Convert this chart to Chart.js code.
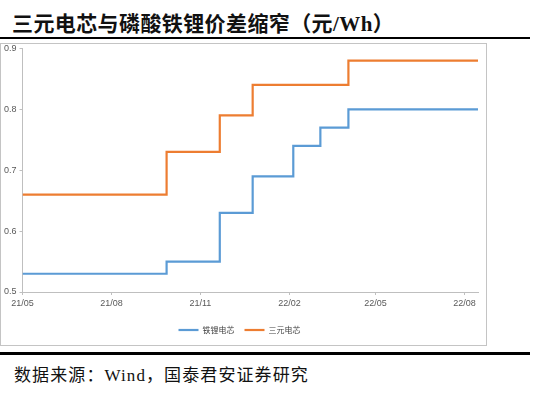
<!DOCTYPE html>
<html>
<head>
    <meta charset="utf-8">
    <title>三元电芯与磷酸铁锂价差缩窄</title>
    <script src="https://cdn.jsdelivr.net/npm/chart.js"></script>
    <style>
        body { margin: 0; width: 550px; height: 398px; background: #fff; position: relative; overflow: hidden; }
        .title { position: absolute; left: 12px; top: 13px; font: bold 21px/22px "Liberation Serif", "Noto Sans CJK SC", serif; letter-spacing: 0.4px; color: #111; white-space: nowrap; }
        .rule { position: absolute; left: 0; width: 530px; background: #000; }
        #box { position: absolute; left: 0; top: 43px; width: 487px; height: 303px; box-sizing: border-box; border: 1px solid #c4c4c4; }
        #chartWrap { position: absolute; left: 1px; top: 40px; }
        .source { position: absolute; left: 14px; top: 367px; font: 17px/18px "Liberation Serif", "Noto Sans CJK SC", serif; letter-spacing: 1.1px; color: #111; white-space: nowrap; }
    </style>
</head>
<body>
    <div class="title">三元电芯与磷酸铁锂价差缩窄（元/Wh）</div>
    <div class="rule" style="top:37px;height:2px;"></div>
    <div id="box"></div>
    <div id="chartWrap"><canvas id="priceChart" width="486" height="305"></canvas></div>
    <div class="rule" style="top:352px;height:3px;"></div>
    <div class="source">数据来源：Wind，国泰君安证券研究</div>

    <script>
        // step change dates and cell prices (元/Wh)
        const stepDates = ['2021-05-01', '2021-09-27', '2021-11-21', '2021-12-25', '2022-02-05', '2022-03-05', '2022-04-03', '2022-08-15'];
        const lfpCell = [0.53, 0.55, 0.63, 0.69, 0.74, 0.77, 0.80, 0.80];
        const ncmCell = [0.66, 0.73, 0.79, 0.84, 0.84, 0.84, 0.88, 0.88];
        const seriesNames = ['铁锂电芯', '三元电芯'];

        const tickDates = ['2021-05-01', '2021-08-01', '2021-11-01', '2022-02-01', '2022-05-01', '2022-08-01'];
        const tickLabels = ['21/05', '21/08', '21/11', '22/02', '22/05', '22/08'];

        // no date adapter available, so x is days since the first date
        const day0 = Date.parse(stepDates[0]);
        const toDay = d => (Date.parse(d) - day0) / 86400000;
        const xs = stepDates.map(toDay);
        const tickDays = tickDates.map(toDay);

        const axisGray = '#bfbfbf';
        const tickFont = { family: '"Liberation Sans Narrow", "Liberation Sans", Arial', size: 9 };

        const ctx = document.getElementById('priceChart').getContext('2d');
        const chart = new Chart(ctx, {
            type: 'line',
            data: {
                datasets: [{
                    label: seriesNames[0],
                    data: xs.map((x, i) => ({ x: x, y: lfpCell[i] })),
                    borderColor: '#5B9BD5',
                    backgroundColor: '#5B9BD5',
                    borderWidth: 2.2,
                    pointRadius: 0,
                    stepped: 'before'
                }, {
                    label: seriesNames[1],
                    data: xs.map((x, i) => ({ x: x, y: ncmCell[i] })),
                    borderColor: '#ED7D31',
                    backgroundColor: '#ED7D31',
                    borderWidth: 2.2,
                    pointRadius: 0,
                    stepped: 'before'
                }]
            },
            options: {
                responsive: false,
                animation: false,
                devicePixelRatio: 1,
                layout: { padding: { left: 0, right: 9, top: 8, bottom: 1 } },
                plugins: {
                    legend: {
                        position: 'bottom',
                        labels: {
                            usePointStyle: true,
                            pointStyle: 'line',
                            pointStyleWidth: 20,
                            padding: 10,
                            color: '#404040',
                            font: { family: '"Noto Sans CJK SC"', size: 8 }
                        }
                    },
                    tooltip: { enabled: false }
                },
                scales: {
                    x: {
                        type: 'linear',
                        min: xs[0],
                        max: xs[xs.length - 1],
                        afterBuildTicks: scale => { scale.ticks = tickDays.map(v => ({ value: v })); },
                        afterFit: scale => { scale.height = 24; },
                        grid: { drawOnChartArea: false, tickLength: 3, color: axisGray },
                        border: { color: axisGray },
                        ticks: {
                            autoSkip: false,
                            maxRotation: 0,
                            padding: 3,
                            color: '#595959',
                            font: tickFont,
                            callback: (v, i) => tickLabels[i]
                        }
                    },
                    y: {
                        min: 0.5,
                        max: 0.9,
                        afterFit: scale => { scale.width = 21.5; },
                        grid: { drawOnChartArea: false, tickLength: 3, color: axisGray },
                        border: { color: axisGray },
                        ticks: {
                            stepSize: 0.1,
                            padding: 3,
                            color: '#595959',
                            font: tickFont,
                            callback: v => v.toFixed(1)
                        }
                    }
                }
            }
        });
    </script>
</body>
</html>
